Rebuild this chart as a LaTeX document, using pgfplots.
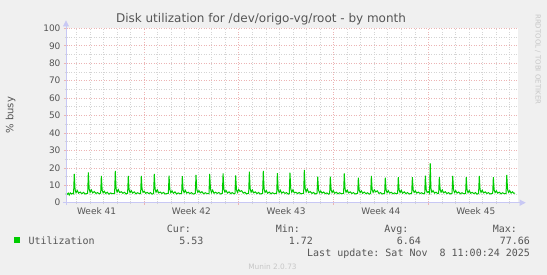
\documentclass[border=0pt]{standalone}
\usepackage{pgfplots}
\pgfplotsset{compat=1.18}
\usepackage{pgfplotstable}
\usepackage{fontspec}
\setmainfont{DejaVu Sans}
\setmonofont{DejaVu Sans Mono}
\usetikzlibrary{arrows.meta}
\definecolor{bgc}{HTML}{F0F0F0}
\definecolor{txt}{HTML}{555555}
\definecolor{mgrid}{HTML}{ECB4B4}
\definecolor{ngrid}{HTML}{D4D4D4}
\definecolor{axc}{HTML}{C8C8F4}
\definecolor{util}{HTML}{00CC00}

\pgfplotstableread{
t v
0.00 5.3
0.08 4.7
0.16 5.5
0.24 4.4
0.32 5.6
0.42 5.0
0.50 5.4
0.56 5.1
0.61 16.5
0.67 7.6
0.74 5.7
0.83 7.0
0.93 5.5
1.05 6.1
1.17 5.2
1.29 5.9
1.41 5.0
1.60 5.4
1.65 17.4
1.71 8.0
1.78 5.9
1.87 7.3
1.97 5.6
2.09 6.4
2.21 5.3
2.33 5.8
2.45 5.1
2.56 5.5
2.61 15.3
2.67 7.2
2.74 5.6
2.83 6.6
2.93 5.3
3.05 6.0
3.17 4.9
3.29 5.6
3.41 5.2
3.59 5.3
3.64 18.2
3.70 7.9
3.77 6.1
3.86 7.5
3.96 5.8
4.08 6.3
4.20 5.4
4.32 6.0
4.44 5.0
4.55 5.4
4.60 15.3
4.66 7.4
4.73 5.8
4.82 6.9
4.92 5.5
5.04 6.2
5.16 5.1
5.28 5.7
5.40 5.3
5.51 5.2
5.56 15.3
5.62 7.7
5.69 5.9
5.78 6.6
5.88 5.4
6.00 5.9
6.12 5.2
6.24 5.8
6.36 4.9
6.47 5.3
6.52 16.5
6.58 7.8
6.65 6.0
6.74 7.4
6.84 5.6
6.96 6.1
7.08 5.3
7.20 5.9
7.32 5.0
7.56 5.4
7.61 15.5
7.67 7.5
7.74 5.7
7.83 6.8
7.93 5.4
8.05 6.2
8.17 5.0
8.29 5.6
8.41 5.2
8.54 5.3
8.59 15.2
8.65 7.3
8.72 5.8
8.81 7.1
8.91 5.5
9.03 6.0
9.15 5.2
9.27 5.8
9.39 4.9
9.55 5.4
9.60 15.9
9.66 7.6
9.73 6.0
9.82 6.9
9.92 5.6
10.04 6.3
10.16 5.1
10.28 5.7
10.40 5.3
10.56 5.2
10.61 16.5
10.67 7.9
10.74 5.8
10.83 7.2
10.93 5.4
11.05 6.0
11.17 5.3
11.29 5.9
11.41 5.0
11.55 5.4
11.60 16.8
11.66 7.7
11.73 6.1
11.82 7.0
11.92 5.5
12.04 6.2
12.16 5.2
12.28 5.8
12.40 5.1
12.48 5.3
12.53 15.7
12.59 7.4
12.66 5.9
12.75 7.6
12.85 6.4
12.97 6.9
13.09 5.5
13.21 6.0
13.33 5.1
13.49 5.4
13.54 17.8
13.60 8.1
13.67 6.0
13.76 7.3
13.86 5.6
13.98 6.2
14.10 5.2
14.22 5.9
14.34 5.0
14.52 5.3
14.57 18.2
14.63 7.8
14.70 5.9
14.79 6.9
14.89 5.4
15.01 6.1
15.13 5.1
15.25 5.7
15.37 5.2
15.56 5.4
15.61 17.0
15.67 7.6
15.74 5.8
15.83 7.1
15.93 5.5
16.05 6.2
16.17 5.3
16.29 5.8
16.41 4.9
16.49 5.3
16.54 17.2
16.60 7.9
16.67 6.0
16.76 7.4
16.86 5.6
16.98 6.0
17.10 5.2
17.22 5.9
17.34 5.1
17.55 5.4
17.60 18.8
17.66 8.3
17.73 6.2
17.82 7.8
17.92 5.8
18.04 6.4
18.16 5.3
18.28 5.9
18.40 5.0
18.54 5.4
18.59 15.0
18.65 7.2
18.72 5.7
18.81 6.7
18.91 5.5
19.03 6.1
19.15 5.2
19.27 5.6
19.39 4.9
19.47 5.3
19.52 15.0
19.58 7.4
19.65 5.8
19.74 7.0
19.84 5.4
19.96 6.0
20.08 5.1
20.20 5.7
20.32 5.2
20.50 5.3
20.55 16.8
20.61 7.8
20.68 6.0
20.77 7.2
20.87 5.6
20.99 6.2
21.11 5.3
21.23 5.8
21.35 5.0
21.54 5.4
21.59 14.4
21.65 7.3
21.72 5.8
21.81 6.8
21.91 5.4
22.03 6.1
22.15 5.2
22.27 5.7
22.39 4.9
22.50 5.3
22.55 15.3
22.61 7.5
22.68 5.9
22.77 7.4
22.87 6.2
22.99 6.8
23.11 5.3
23.23 5.8
23.35 5.0
23.53 5.4
23.58 14.4
23.64 7.2
23.71 5.7
23.80 6.9
23.90 5.5
24.02 6.0
24.14 5.1
24.26 5.6
24.38 5.2
24.49 5.3
24.54 14.6
24.60 7.4
24.67 5.8
24.76 7.1
24.86 5.4
24.98 6.2
25.10 5.2
25.22 5.8
25.34 5.0
25.53 5.4
25.58 14.6
25.64 7.3
25.71 5.9
25.80 6.8
25.90 5.5
26.02 6.1
26.14 5.3
26.26 5.7
26.38 5.1
26.49 5.3
26.54 15.5
26.60 7.5
26.67 5.8
26.76 6.4
26.85 5.4
26.90 22.6
26.95 8.2
27.02 6.0
27.11 6.9
27.21 5.5
27.33 6.0
27.45 5.2
27.52 5.4
27.57 14.6
27.63 7.6
27.70 6.0
27.79 7.3
27.89 5.6
28.01 6.3
28.13 5.2
28.25 5.8
28.37 5.0
28.51 5.4
28.56 15.3
28.62 7.4
28.69 5.8
28.78 6.9
28.88 5.5
29.00 6.1
29.12 5.1
29.24 5.7
29.36 5.2
29.51 5.3
29.56 14.6
29.62 7.2
29.69 5.7
29.78 7.0
29.88 5.4
30.00 5.9
30.12 5.2
30.24 5.8
30.36 4.9
30.47 5.3
30.52 15.3
30.58 7.5
30.65 5.9
30.74 7.2
30.84 5.6
30.96 6.2
31.08 5.3
31.20 5.8
31.32 5.0
31.51 5.4
31.56 14.6
31.62 7.3
31.69 5.8
31.78 6.8
31.88 5.5
32.00 6.0
32.12 5.1
32.24 5.7
32.36 5.2
32.50 5.3
32.55 15.9
32.61 7.6
32.68 5.9
32.77 6.9
32.87 5.5
32.97 6.2
33.07 5.4
33.16 5.5
}\utildata

\begin{document}
\begin{tikzpicture}
\fill[bgc] (0pt,0pt) rectangle (547pt,275pt);
\begin{axis}[
  at={(66pt,72.3pt)}, anchor=south west,
  scale only axis, width=452pt, height=174.4pt,
  xmin=0, xmax=33.38, ymin=0, ymax=100,
  axis line style={draw=none},
  axis background/.style={fill=white},
  clip=false,
  ytick={0,10,...,100},
  minor ytick={5,15,...,95},
  xtick={5.76,12.76,19.76,26.76},
  xticklabels={},
  minor xtick={0.76,1.76,2.76,3.76,4.76,6.76,7.76,8.76,9.76,10.76,11.76,13.76,14.76,15.76,16.76,17.76,18.76,20.76,21.76,22.76,23.76,24.76,25.76,27.76,28.76,29.76,30.76,31.76,32.76},
  grid=both,
  major grid style={draw=mgrid, dash pattern=on 1pt off 1.5pt, line width=0.6pt},
  minor grid style={draw=ngrid, dash pattern=on 1pt off 1.5pt, line width=0.6pt},
  tick align=center,
  major tick length=4pt, minor tick length=3pt,
  major tick style={draw=mgrid, line width=0.6pt},
  minor tick style={draw=ngrid, line width=0.6pt},
  xtick pos=bottom, ytick pos=left,
  /pgf/number format/assume math mode=true,
  yticklabel style={font=\fontsize{9}{9}\selectfont, text=txt},
  extra x ticks={2.26,9.26,16.26,23.26,30.26},
  extra x tick labels={Week 41,Week 42,Week 43,Week 44,Week 45},
  extra x tick style={grid=none, major tick length=0pt,
     tick label style={font=\fontsize{9}{9}\selectfont, text=txt, yshift=-1pt}},
]
\addplot[util, line width=1pt, no marks] table[x=t, y=v] {\utildata};
\draw[axc, line width=0.8pt, -{Triangle[length=6pt,width=6pt]}] (axis cs:0,-1.5) -- (axis cs:0,104.5);
\draw[axc, line width=0.8pt, -{Triangle[length=6pt,width=6pt]}] (axis cs:-0.25,0) -- (axis cs:33.95,0);
\end{axis}
\node[text=txt, font=\fontsize{12}{12}\selectfont] at (261pt,256pt) {Disk utilization for /dev/origo-vg/root - by month};
\node[text=txt, rotate=90, font=\fontsize{10}{10}\selectfont] at (10.5pt,159.7pt) {\% busy};
\node[text=black!22, rotate=-90, anchor=west, inner sep=0pt, font=\fontsize{7}{7}\selectfont] at (538pt,261pt) {RRDTOOL / TOBI OETIKER};
\fill[util] (14pt,31.5pt) rectangle (20pt,37.5pt);
\begin{scope}[font=\ttfamily\fontsize{10}{10}\selectfont, text=txt]
\node[anchor=mid west] at (25pt,33pt) {Utilization};
\node[anchor=mid east] at (194.5pt,45.4pt) {Cur:};
\node[anchor=mid east] at (207pt,33pt) {5.53};
\node[anchor=mid east] at (303.5pt,45.4pt) {Min:};
\node[anchor=mid east] at (316.5pt,33pt) {1.72};
\node[anchor=mid east] at (412pt,45.4pt) {Avg:};
\node[anchor=mid east] at (424.5pt,33pt) {6.64};
\node[anchor=mid east] at (520.5pt,45.4pt) {Max:};
\node[anchor=mid east] at (533.5pt,33pt) {77.66};
\node[anchor=mid east] at (533.5pt,21pt) {Last update: Sat Nov\ \ 8 11:00:24 2025};
\end{scope}
\node[text=black!22, font=\fontsize{7.4}{7.4}\selectfont] at (272.5pt,8pt) {Munin 2.0.73};
\end{tikzpicture}
\end{document}
